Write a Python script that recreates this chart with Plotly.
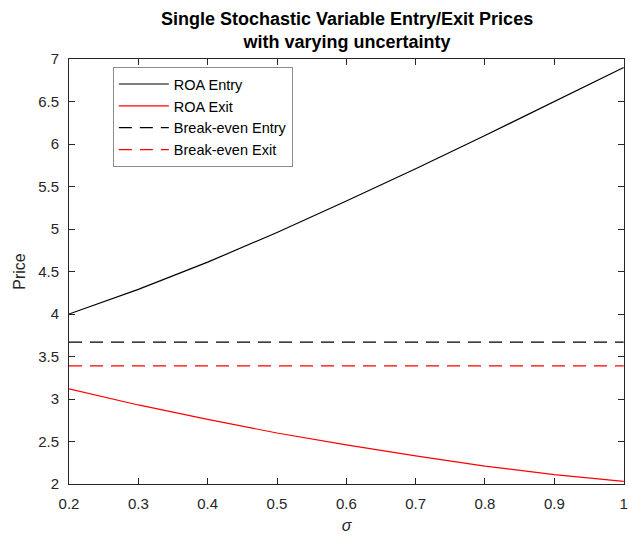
import plotly.graph_objects as go

sigma = [0.2, 0.3, 0.4, 0.5, 0.6, 0.7, 0.8, 0.9, 1.0]
roa_entry = [4.00, 4.29, 4.61, 4.96, 5.33, 5.71, 6.10, 6.50, 6.90]
roa_exit = [3.12, 2.93, 2.76, 2.60, 2.46, 2.33, 2.21, 2.11, 2.03]
be_entry = 3.67
be_exit = 3.39
x_ticks = [0.2, 0.3, 0.4, 0.5, 0.6, 0.7, 0.8, 0.9, 1.0]
x_labels = ["0.2", "0.3", "0.4", "0.5", "0.6", "0.7", "0.8", "0.9", "1"]
y_ticks = [2, 2.5, 3, 3.5, 4, 4.5, 5, 5.5, 6, 6.5, 7]
y_labels = ["2", "2.5", "3", "3.5", "4", "4.5", "5", "5.5", "6", "6.5", "7"]
title_text = "<b>Single Stochastic Variable Entry/Exit Prices<br>with varying uncertainty</b>"

ax_col = "#262626"
font = "Liberation Sans, Arial, sans-serif"
dash = "13px,8px"

fig = go.Figure()
fig.add_trace(go.Scatter(x=sigma, y=roa_entry, mode="lines", name="ROA Entry",
                         line=dict(color="black", width=1.2)))
fig.add_trace(go.Scatter(x=sigma, y=roa_exit, mode="lines", name="ROA Exit",
                         line=dict(color="red", width=1.2)))
fig.add_trace(go.Scatter(x=sigma, y=[be_entry] * len(sigma), mode="lines", name="Break-even Entry",
                         line=dict(color="black", width=1.2, dash=dash)))
fig.add_trace(go.Scatter(x=sigma, y=[be_exit] * len(sigma), mode="lines", name="Break-even Exit",
                         line=dict(color="red", width=1.2, dash=dash)))

axis_common = dict(showgrid=False, zeroline=False, showline=True, linecolor=ax_col, linewidth=1,
                   mirror="ticks", ticks="inside", ticklen=6, tickcolor=ax_col, tickwidth=1,
                   ticklabeloverflow="allow",
                   tickfont=dict(family=font, size=15, color=ax_col))

fig.add_annotation(text=title_text, xref="paper", yref="paper", x=0.5, y=1 + 52 / 425,
                   xanchor="center", yanchor="top", showarrow=False,
                   font=dict(family=font, size=18, color="black"))

fig.update_layout(
    width=629, height=540,
    margin=dict(l=69, r=1, t=59, b=56),
    paper_bgcolor="white", plot_bgcolor="white",
    xaxis=dict(range=[0.2, 1.0005], tickvals=x_ticks, ticktext=x_labels, ticklabelstandoff=6,
               title=dict(text="<i>σ</i>", font=dict(family=font, size=16, color=ax_col), standoff=8),
               **axis_common),
    yaxis=dict(range=[2, 7.0005], tickvals=y_ticks, ticktext=y_labels, ticklabelstandoff=6,
               title=dict(text="Price", font=dict(family=font, size=16, color=ax_col), standoff=8),
               **axis_common),
    legend=dict(x=0.079, y=0.981, xanchor="left", yanchor="top",
                bgcolor="white", bordercolor="#8c8c8c", borderwidth=1,
                font=dict(family=font, size=14.5, color="black"),
                itemwidth=50, tracegroupgap=0),
    showlegend=True,
)

fig.write_html("out.html", config={"displayModeBar": False},
               post_script="document.body.style.margin='0px';")
